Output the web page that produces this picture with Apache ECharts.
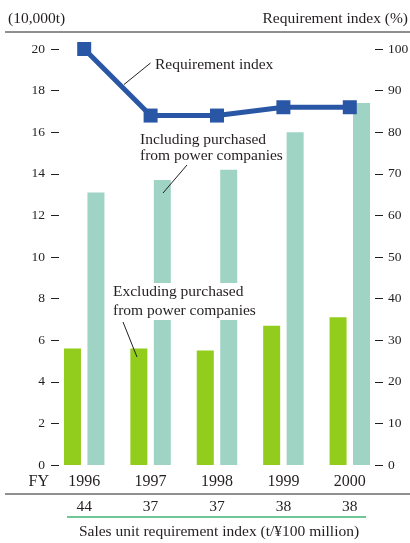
<!DOCTYPE html>
<html><head><meta charset="utf-8">
<script src="https://cdn.jsdelivr.net/npm/echarts@6/dist/echarts.min.js"></script>
<style>html,body{margin:0;padding:0;background:#fff}#c{width:410px;height:543px}</style>
</head><body><div id="c"></div>
<script>
const years = ['1996', '1997', '1998', '1999', '2000'];
const excludingPurchased = [5.6, 5.6, 5.5, 6.7, 7.1];
const includingPurchased = [13.1, 13.7, 14.2, 16.0, 17.4];
const requirementIndex = [100, 84, 84, 86, 86];
const salesUnitIndex = ['44', '37', '37', '38', '38'];

const FONT = 'Liberation Serif';
const TXT = '#231f20';
const chart = echarts.init(document.getElementById('c'), null, {renderer: 'canvas'});

function txt(x, y, s, size, align) {
  return {
    type: 'text', x: x, y: y, silent: true, z: 100,
    style: {text: s, fill: TXT, font: size + 'px "' + FONT + '"', align: align || 'left', verticalAlign: 'middle'}
  };
}
function ln(x1, y1, x2, y2, color, w) {
  return {type: 'line', silent: true, z: 100, shape: {x1: x1, y1: y1, x2: x2, y2: y2}, style: {stroke: color, lineWidth: w}};
}

chart.setOption({
  animation: false,
  backgroundColor: '#fff',
  textStyle: {fontFamily: FONT, color: TXT},
  grid: {left: 51, right: 27, top: 49, bottom: 78, containLabel: false, outerBoundsMode: 'none'},
  xAxis: [
    {
      type: 'category', data: years, position: 'bottom',
      axisLine: {show: false}, axisTick: {show: false},
      axisLabel: {fontFamily: FONT, fontSize: 16, color: TXT, margin: 9}
    },
    {
      type: 'category', data: salesUnitIndex, position: 'bottom', offset: 25,
      axisLine: {show: false}, axisTick: {show: false},
      axisLabel: {fontFamily: FONT, fontSize: 15.5, color: TXT, margin: 9}
    }
  ],
  yAxis: [
    {
      type: 'value', min: 0, max: 20, interval: 2, position: 'left',
      splitLine: {show: false}, axisLine: {show: false},
      axisTick: {show: true, inside: true, length: 8, lineStyle: {color: TXT, width: 1}},
      axisLabel: {fontFamily: FONT, fontSize: 13.5, color: TXT, margin: 6}
    },
    {
      type: 'value', min: 0, max: 100, interval: 10, position: 'right',
      splitLine: {show: false}, axisLine: {show: false},
      axisTick: {show: true, inside: true, length: 8, lineStyle: {color: TXT, width: 1}},
      axisLabel: {fontFamily: FONT, fontSize: 13.5, color: TXT, margin: 5}
    }
  ],
  series: [
    {
      name: 'Excluding purchased from power companies', type: 'bar', xAxisIndex: 0, yAxisIndex: 0,
      data: excludingPurchased, barWidth: 17, barGap: '38%',
      itemStyle: {color: '#92cc1c'}, z: 2
    },
    {
      name: 'Including purchased from power companies', type: 'bar', xAxisIndex: 0, yAxisIndex: 0,
      data: includingPurchased, barWidth: 17, barGap: '38%',
      itemStyle: {color: '#9fd3c4'}, z: 2
    },
    {
      name: 'Requirement index', type: 'line', xAxisIndex: 0, yAxisIndex: 1,
      data: requirementIndex, symbol: 'rect', symbolSize: 14,
      lineStyle: {color: '#2a57a5', width: 5}, itemStyle: {color: '#2a57a5'}, z: 5
    }
  ],
  graphic: [
    txt(8, 19, '(10,000t)', 15.5),
    txt(408, 19, 'Requirement index (%)', 15.5, 'right'),
    ln(5, 32, 410, 32, TXT, 1),
    txt(49, 482, 'FY', 16, 'right'),
    ln(5, 494, 410, 494, TXT, 1),
    ln(67, 517, 366, 517, '#6fc796', 2),
    txt(219, 532, 'Sales unit requirement index (t/\u00a5100 million)', 15.5, 'center'),
    txt(155, 65, 'Requirement index', 15.5),
    ln(150.5, 63, 124, 84.5, TXT, 1),
    txt(140, 140, 'Including purchased', 15.5),
    txt(140, 155.5, 'from power companies', 15.5),
    ln(187, 165, 163, 193, TXT, 1),
    {type: 'rect', silent: true, z: 99, shape: {x: 110, y: 283, width: 147, height: 37}, style: {fill: '#fff'}},
    txt(113, 292, 'Excluding purchased', 15.5),
    txt(113, 311, 'from power companies', 15.5),
    ln(123, 322, 137, 357, TXT, 1)
  ]
});
</script>
</body></html>
